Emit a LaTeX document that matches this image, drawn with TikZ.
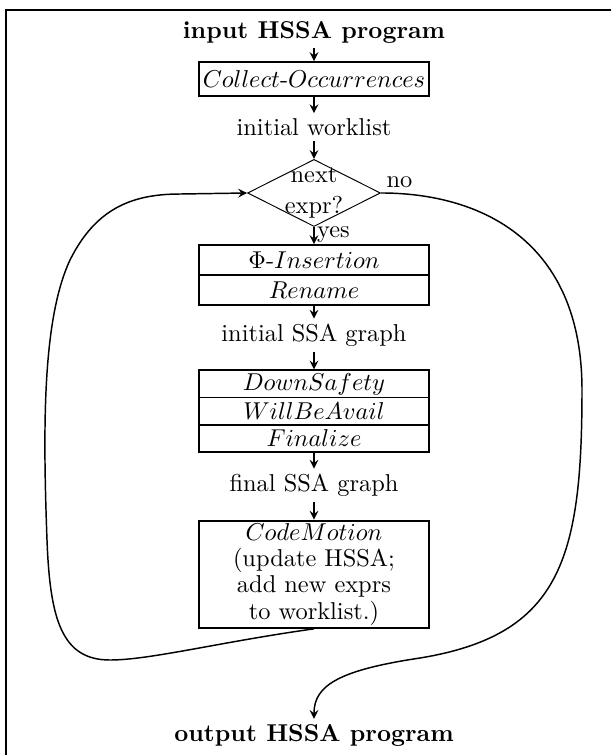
\documentclass[tikz,border=0pt]{standalone}
\usepackage{tikz}
\usepackage{amsmath}
\usetikzlibrary{shapes.geometric, arrows}
\tikzstyle{arrow} = [semithick, ->, >=stealth]
\tikzstyle{loop} = [semithick, ->, >=stealth]
\tikzstyle{block} = [rectangle, minimum width=94pt, inner sep=1pt, text centered, draw=black, thick]
\tikzstyle{phase} = [text centered, inner sep=2pt]
\tikzstyle{test} = [diamond, aspect=2, minimum width=54.5pt, minimum height=27.5pt, inner sep=0pt, draw=black]

\begin{document}
\begin{tikzpicture}[x=0.41pt, y=-0.41pt, node distance=19.3pt]
		\useasboundingbox (0,0) rectangle (611,755);
		\draw [thick] (611,10) -- (6,10) -- (6,755);
		\node(in) [phase, font=\bfseries] at (314,32) {input HSSA program};
		\node(co) [block, below of=in, minimum height=14pt] {$Collect$-$Occurrences$};
		\node(wl) [phase, below of=co, node distance=19.7pt] {initial worklist};
		\node(nx) [test, below of=wl, node distance=27pt] {\raisebox{-4.5pt}{\smash{\begin{tabular}{@{}c@{}}next\\[0.5pt]expr?\end{tabular}}}};
		\node(ph) [block, below of=nx, node distance=27.5pt, minimum height=12.3pt] {$\Phi$-$Insertion$};
		\node(rn) [block, below of=ph, node distance=12.3pt, minimum height=12.3pt] {$Rename$};
		\node(is) [phase, below of=rn, node distance=18.5pt] {initial SSA graph};
		\node(ds) [block, below of=is, node distance=20pt, minimum height=11.1pt] {$DownSafety$};
		\node(wb) [block, below of=ds, node distance=11.1pt, minimum height=11.1pt] {$WillBeAvail$};
		\node(fz) [block, below of=wb, node distance=11.1pt, minimum height=11.1pt] {$Finalize$};
		\node(fs) [phase, below of=fz] {final SSA graph};
		\node(cm) [block, below of=fs, node distance=36.5pt, minimum height=44pt, align=center] {$CodeMotion$\\[-1.2pt](update HSSA;\\[-1.2pt]add new exprs\\[-1.2pt]to worklist.)};
		\node(out) [phase, font=\bfseries, below of=cm, node distance=66pt] {output HSSA program};
		\draw [arrow] (in) -- (co);
		\draw [arrow] (co) -- (wl);
		\draw [arrow] (wl) -- (nx);
		\draw [arrow] (nx) -- node[right, pos=0.45, inner sep=1pt] {yes} (ph);
		\draw [arrow] (rn) -- (is);
		\draw [arrow] (is) -- (ds);
		\draw [arrow] (fz) -- (fs);
		\draw [arrow] (fs) -- (cm);
		\draw [loop] (cm.south) .. controls (220,642) and (150,660) .. (110,660) .. controls (62,660) and (50,620) .. (47,540) .. controls (43,430) and (42,320) .. (70,260) .. controls (95,210) and (130,194) .. (180,194) -- (nx.west);
		\draw [loop] (nx.east) node[above right, inner sep=2pt] {no} .. controls (480,193) and (582,240) .. (582,390) .. controls (582,560) and (560,635) .. (420,658) .. controls (340,670) and (314,685) .. (out.north);
	\end{tikzpicture}
\end{document}
